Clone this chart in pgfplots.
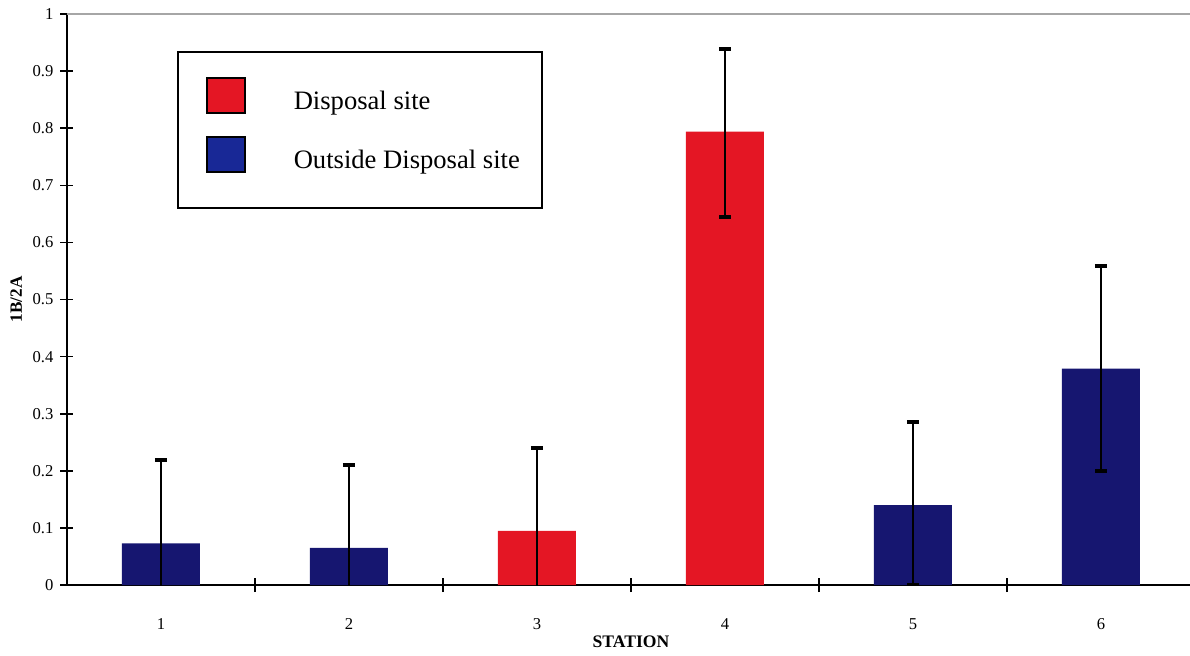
\documentclass[border=0pt]{standalone}
\usepackage{fontspec}
\setmainfont{Liberation Serif}
\usepackage{pgfplots}
\pgfplotsset{compat=1.18}
\definecolor{dispred}{RGB}{228,22,36}
\definecolor{navybar}{RGB}{22,22,112}
\definecolor{legblue}{RGB}{24,40,150}
\begin{document}
\begin{tikzpicture}
\useasboundingbox (-33.5pt,-35pt) rectangle (561.5pt,292.5pt);
\begin{axis}[
  name=ax,
  at={(0pt,0pt)}, anchor=south west,
  width=564pt, height=285.5pt, scale only axis,
  xmin=0.5, xmax=6.5, ymin=0, ymax=1,
  axis x line*=bottom, axis y line*=left,
  axis line style={-, black, line width=1pt},
  xtick={1,2,3,4,5,6},
  minor xtick={1.5,2.5,3.5,4.5,5.5},
  major x tick style={draw=none},
  minor x tick style={black, line width=0.8pt},
  ytick={0,0.1,0.2,0.3,0.4,0.5,0.6,0.7,0.8,0.9,1},
  y tick style={black, line width=0.8pt},
  xtick align=center, ytick align=center,
  major tick length=6.5pt,
  minor tick length=7pt,
  ticklabel style={font=\fontsize{8.3}{10}\selectfont},
  /pgf/number format/assume math mode=true,
  xticklabel style={yshift=-10pt},
  xlabel={\textbf{STATION}},
  xlabel style={at={(axis description cs:0.5,-0.1)}, anchor=center, font=\fontsize{8.8}{10}\selectfont},
  ylabel={\textbf{1B/2A}},
  ylabel style={at={(axis description cs:-0.045,0.5)}, anchor=center, font=\fontsize{8.6}{10}\selectfont},
  legend image code/.code={\path (0pt,0pt) (0pt,-6.5pt); \draw[#1, line width=0.8pt] (3pt,-1.5pt) rectangle (22pt,16pt);},
  legend style={at={(axis description cs:0.0975,0.9352)}, anchor=north west,
    draw=black, line width=1pt, inner xsep=11pt, inner ysep=12.5pt,
    row sep=6.1pt, column sep=24pt,
    font=\fontsize{13.3}{16}\selectfont, cells={anchor=base west},
    nodes={inner sep=0pt}},
]
% Outside disposal site
\addplot[ybar, bar width=39pt, bar shift=0pt, fill=navybar, draw=none, forget plot,
  error bars/.cd, y dir=both, y explicit,
  error bar style={black, line width=0.6pt},
  error mark=-, error mark options={black, rotate=90, line width=2pt, mark size=3pt}]
  coordinates {
    (1,0.073) += (0,0.146) -= (0,0.146)
    (2,0.065) += (0,0.145) -= (0,0.145)
    (5,0.140) += (0,0.146) -= (0,0.140)
    (6,0.379) += (0,0.180) -= (0,0.180)
  };
% Disposal site
\addplot[ybar, bar width=39pt, bar shift=0pt, fill=dispred, draw=none, forget plot,
  error bars/.cd, y dir=both, y explicit,
  error bar style={black, line width=0.6pt},
  error mark=-, error mark options={black, rotate=90, line width=2pt, mark size=3pt}]
  coordinates {
    (3,0.095) += (0,0.145) -= (0,0.145)
    (4,0.794) += (0,0.145) -= (0,0.149)
  };
\addlegendimage{fill=dispred, draw=black}
\addlegendentry{Disposal site}
\addlegendimage{fill=legblue, draw=black}
\addlegendentry{Outside Disposal site}
\end{axis}
\draw[gray!70, line width=0.8pt] (ax.north west) -- (ax.north east);
\end{tikzpicture}
\end{document}
